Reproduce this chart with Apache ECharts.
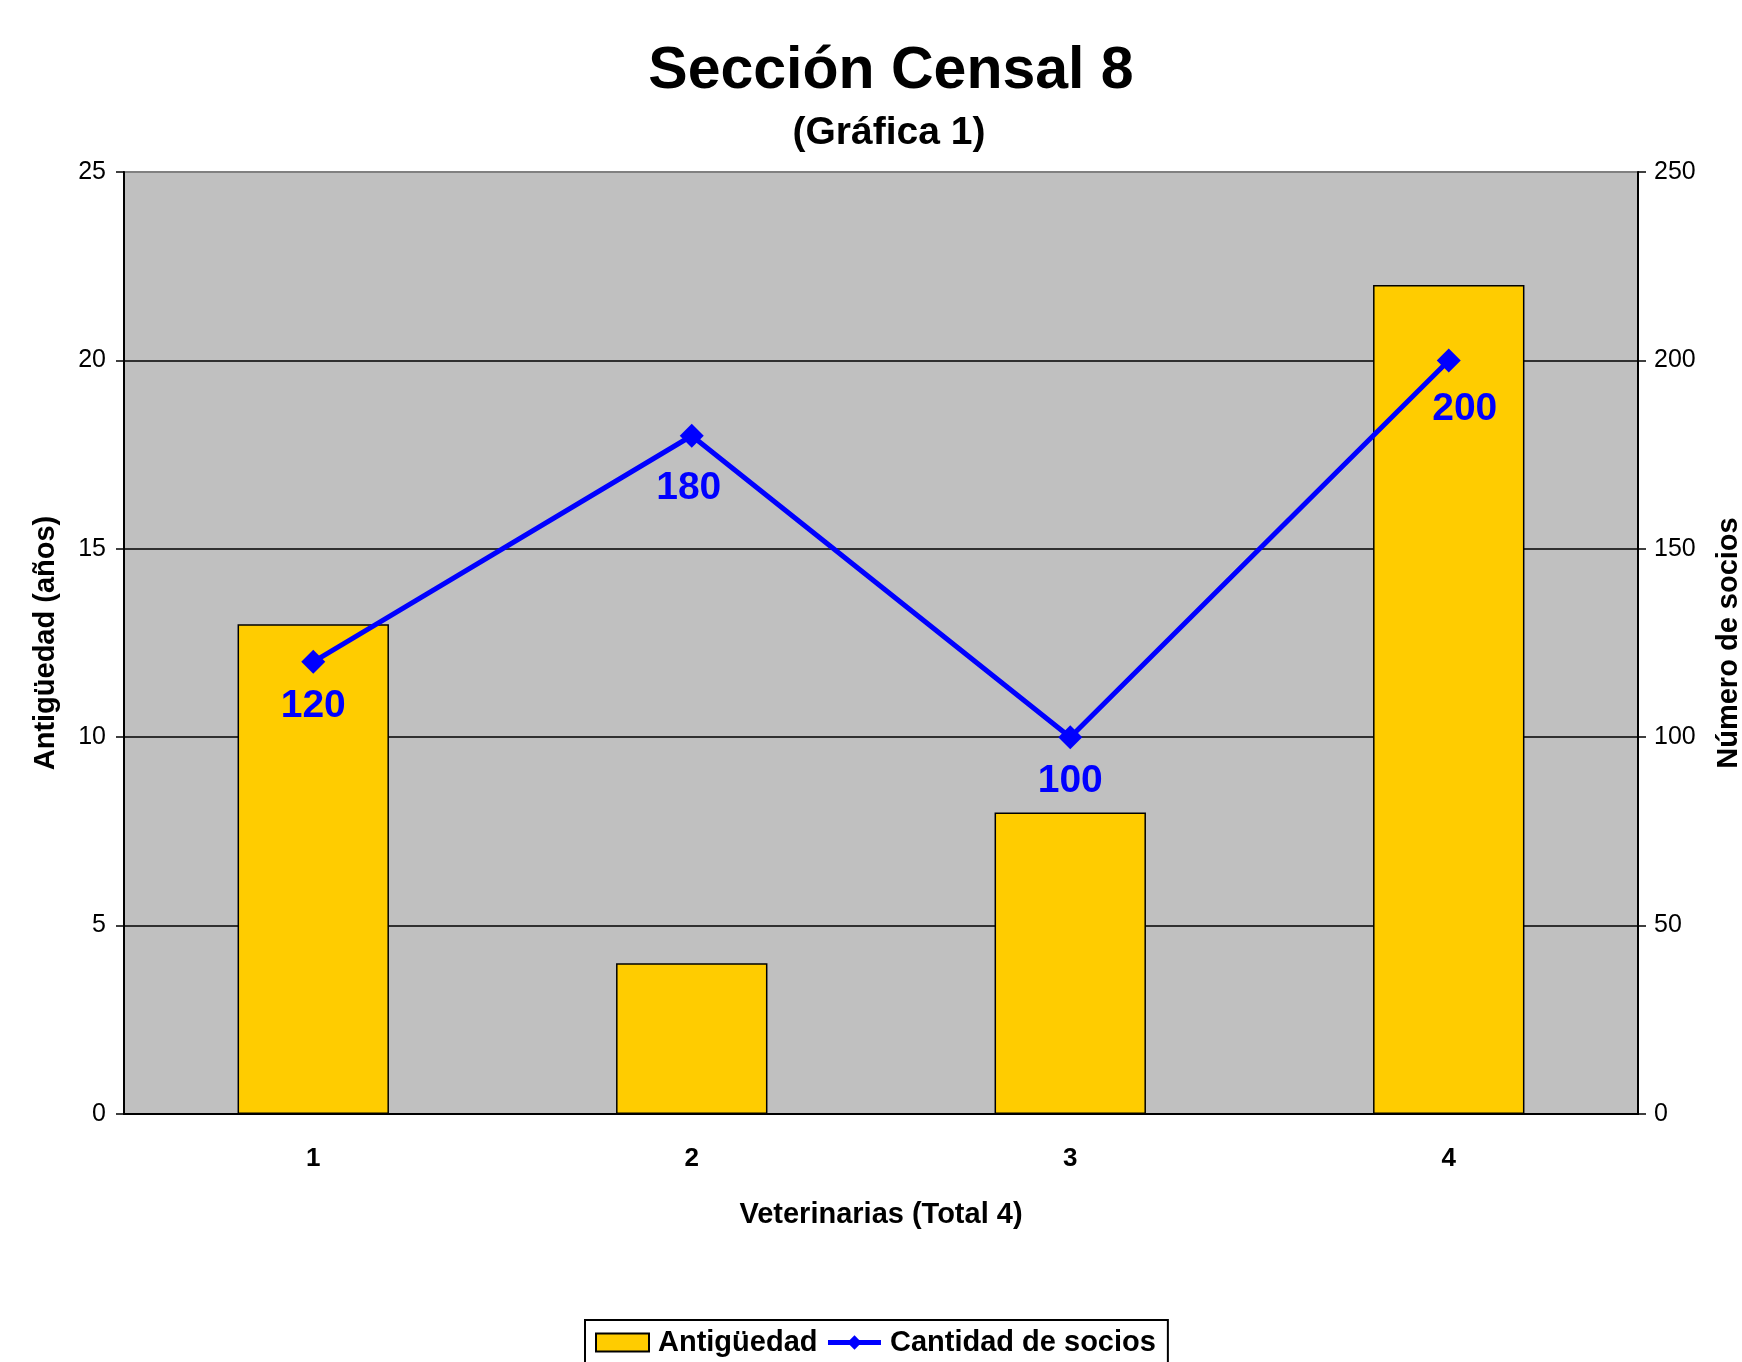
<!DOCTYPE html>
<html>
<head>
<meta charset="utf-8">
<title>Sección Censal 8</title>
<script src="https://cdn.jsdelivr.net/npm/echarts@6/dist/echarts.min.js"></script>
<style>
	html, body { margin: 0; padding: 0; background: #fff; }
	#main { width: 1742px; height: 1362px; }
</style>
</head>
<body>
<div id="main"></div>
<script>
// datos
var veterinarias = ['1', '2', '3', '4'];
var antiguedad = [13, 4, 8, 22];
var socios = [120, 180, 100, 200];
var ticksAnios = [0, 5, 10, 15, 20, 25];
var ticksSocios = [0, 50, 100, 150, 200, 250];

var fuente = 'Arial, "Liberation Sans", sans-serif';
var myChart = echarts.init(document.getElementById('main'));

// corrimiento de algunas etiquetas (como las dejo Excel)
var desplazamiento = { 1: [-3, 8], 3: [16, 4] };

var option = {
	backgroundColor: '#ffffff',
	animation: false,
	title: [{
		text: 'Sección Censal 8',
		left: 886,
		textAlign: 'center',
		top: 37,
		textStyle: { fontFamily: fuente, fontSize: 59, fontWeight: 'bold', color: '#000' }
	}, {
		text: '(Gráfica 1)',
		left: 884,
		textAlign: 'center',
		top: 109,
		textStyle: { fontFamily: fuente, fontSize: 39, fontWeight: 'bold', color: '#000' }
	}],
	legend: {
		left: 585,
		top: 1320,
		padding: [8, 12, 10, 10],
		borderColor: '#000',
		borderWidth: 2,
		itemGap: 8,
		itemWidth: 53,
		itemHeight: 18,
		textStyle: { fontFamily: fuente, fontSize: 29, fontWeight: 'bold', color: '#000', padding: [0, 0, 0, 4] },
		data: [
			{ name: 'Antigüedad', icon: 'rect' },
			{ name: 'Cantidad de socios', lineStyle: { width: 5, color: '#0000FF' } }
		]
	},
	grid: {
		left: 124,
		right: 104,
		top: 172,
		bottom: 248,
		outerBoundsMode: 'none',
		show: true,
		backgroundColor: '#C0C0C0',
		borderColor: '#808080',
		borderWidth: 2
	},
	xAxis: {
		type: 'category',
		data: veterinarias,
		name: 'Veterinarias (Total 4)',
		nameLocation: 'middle',
		nameGap: 86,
		nameTextStyle: { fontFamily: fuente, fontSize: 29, fontWeight: 'bold', color: '#000' },
		axisLine: { lineStyle: { color: '#000', width: 2 } },
		axisTick: { length: 8, lineStyle: { color: '#000', width: 1.5 } },
		axisLabel: { margin: 32, fontFamily: fuente, fontSize: 26, fontWeight: 'bold', color: '#000' }
	},
	yAxis: [{
		type: 'value',
		min: ticksAnios[0],
		max: ticksAnios[ticksAnios.length - 1],
		interval: 5,
		name: 'Antigüedad (años)',
		nameLocation: 'middle',
		nameRotate: 90,
		nameGap: 64,
		nameTextStyle: { fontFamily: fuente, fontSize: 29, fontWeight: 'bold', color: '#000' },
		axisLine: { show: true, lineStyle: { color: '#000', width: 2 } },
		axisTick: { show: true, length: 8, lineStyle: { color: '#000', width: 1.5 } },
		axisLabel: { margin: 18, fontFamily: fuente, fontSize: 25, color: '#000' },
		splitLine: { show: true, showMaxLine: false, lineStyle: { color: '#000', width: 1.5 } }
	}, {
		type: 'value',
		min: ticksSocios[0],
		max: ticksSocios[ticksSocios.length - 1],
		interval: 50,
		name: 'Número de socios',
		nameLocation: 'middle',
		nameRotate: 90,
		nameGap: 76,
		nameTextStyle: { fontFamily: fuente, fontSize: 29, fontWeight: 'bold', color: '#000' },
		axisLine: { show: true, lineStyle: { color: '#000', width: 2 } },
		axisTick: { show: true, length: 8, lineStyle: { color: '#000', width: 1.5 } },
		axisLabel: { margin: 16, fontFamily: fuente, fontSize: 25, color: '#000' },
		splitLine: { show: false }
	}],
	series: [{
		name: 'Antigüedad',
		type: 'bar',
		yAxisIndex: 0,
		barWidth: '40%',
		itemStyle: { color: '#FFCC00', borderColor: '#000', borderWidth: 1.5 },
		data: antiguedad
	}, {
		name: 'Cantidad de socios',
		type: 'line',
		yAxisIndex: 1,
		symbol: 'diamond',
		symbolSize: 24,
		lineStyle: { color: '#0000FF', width: 5 },
		itemStyle: { color: '#0000FF' },
		label: {
			show: true,
			position: 'bottom',
			distance: 13,
			fontFamily: fuente,
			fontSize: 39,
			fontWeight: 'bold',
			color: '#0000FF'
		},
		data: socios.map(function(v, i) {
			return desplazamiento[i] ? { value: v, label: { offset: desplazamiento[i] } } : v;
		})
	}]
};
myChart.setOption(option);
</script>
</body>
</html>
